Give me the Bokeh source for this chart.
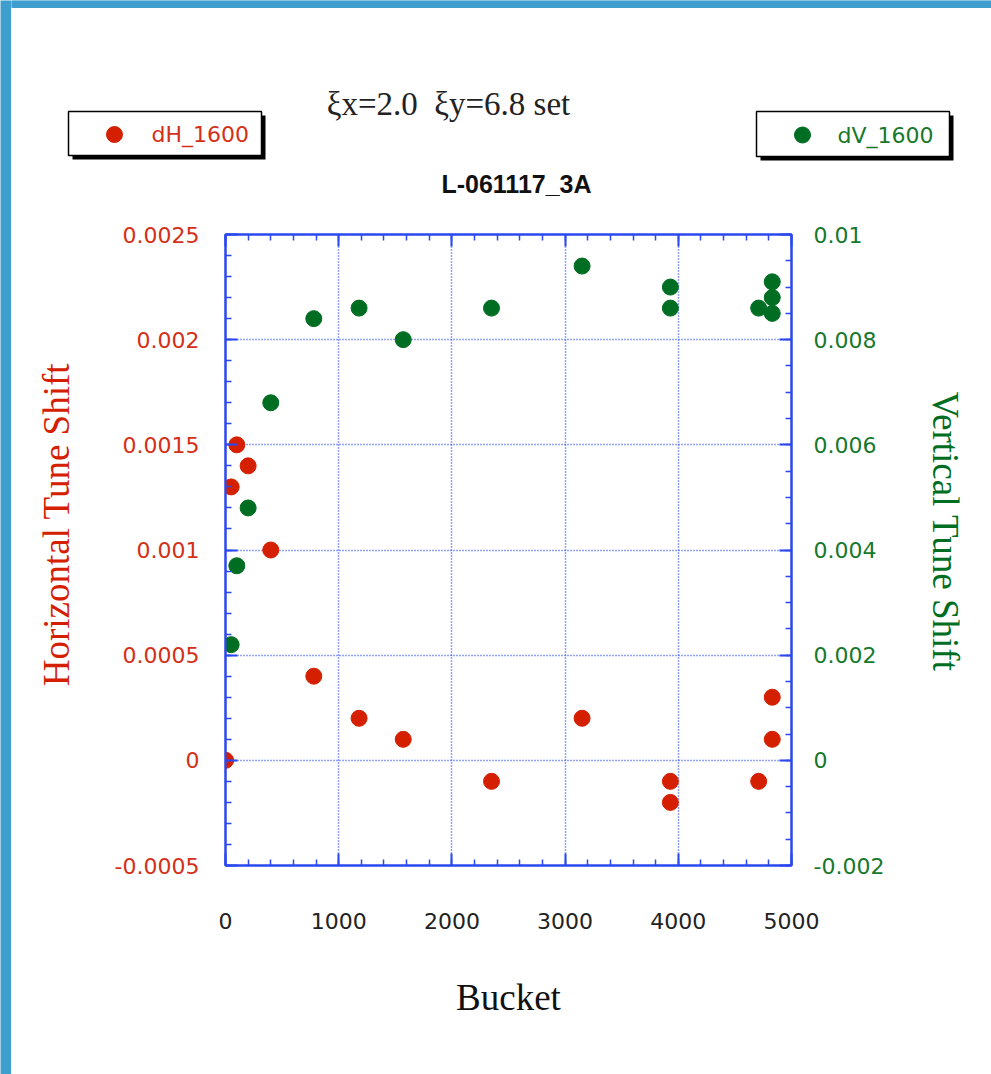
from math import pi
from bokeh.plotting import figure
from bokeh.layouts import row, column
from bokeh.models import (LinearAxis, Range1d, Label, SingleIntervalTicker,
                          CustomJSTickFormatter)
from bokeh.embed import file_html
from bokeh.resources import INLINE

# ---------------- data ----------------
bucket_h = [1, 50, 100, 200, 400, 780, 1180, 1570, 2350, 3150, 3930, 3930, 4710, 4830, 4830]
dH_1600 = [0.0, 0.0013, 0.0015, 0.0014, 0.0010, 0.0004, 0.0002, 0.0001, -0.0001,
           0.0002, -0.0001, -0.0002, -0.0001, 0.0003, 0.0001]

bucket_v = [50, 100, 200, 400, 780, 1180, 1570, 2350, 3150, 3930, 3930, 4710, 4830, 4830, 4830]
dV_1600 = [0.0022, 0.0037, 0.0048, 0.0068, 0.0084, 0.0086, 0.0080, 0.0086, 0.0094,
           0.0090, 0.0086, 0.0086, 0.0091, 0.0088, 0.0085]

x_lim = (0, 5000)
yh_lim = (-0.0005, 0.0025)
yv_lim = (-0.002, 0.01)

title_top = "\u03bex=2.0\u00a0 \u03bey=6.8 set"
title_run = "L-061117_3A"
x_title = "Bucket"
yh_title = "Horizontal Tune Shift"
yv_title = "Vertical Tune Shift"
name_h = "dH_1600"
name_v = "dV_1600"

# ---------------- style ----------------
BLUE = "#2b48ee"
RED = "#d42000"
GREEN = "#006e22"
RED_TXT = "#d43018"
GREEN_TXT = "#17782c"
BG_BLUE = "#3e9fcf"
SANS = "DejaVu Sans"
SERIF = "Liberation Serif"

PAGE_W, PAGE_H = 991, 1074
STRIP_W = 11            # blue strip on the left
TOP_H = 224             # header (titles + legends)
FL, FR, FT, FB = 225, 791, 234, 865   # plot frame edges, page pixels
MAIN_X0, MAIN_X1 = 105, 900           # main figure horizontal extent, page pixels


def blank_fig(w, h, xr, yr):
    f = figure(width=w, height=h, output_backend="svg", toolbar_location=None,
               x_range=Range1d(*xr), y_range=Range1d(*yr),
               x_axis_location=None, y_axis_location=None, min_border=0)
    f.min_border_left = f.min_border_right = 0
    f.min_border_top = f.min_border_bottom = 0
    f.outline_line_color = None
    f.grid.visible = False
    f.background_fill_color = "white"
    f.border_fill_color = "white"
    return f


# ---------------- left blue strip ----------------
strip = blank_fig(STRIP_W, PAGE_H, (0, 1), (0, 1))
strip.background_fill_color = BG_BLUE
strip.border_fill_color = BG_BLUE

# ---------------- header (page coordinates) ----------------
top = blank_fig(PAGE_W - STRIP_W, TOP_H, (STRIP_W, PAGE_W), (TOP_H, 0))
top.quad(left=[STRIP_W], right=[PAGE_W], top=[0], bottom=[7], color=BG_BLUE)

top.add_layout(Label(x=448, y=103, text=title_top, text_font=SERIF,
                     text_font_size="33px", text_color="#222222",
                     text_align="center", text_baseline="alphabetic"))
top.add_layout(Label(x=516, y=183.5, text=title_run, text_font="Liberation Sans",
                     text_font_style="bold", text_font_size="25px", text_color="#111111",
                     text_align="center", text_baseline="alphabetic"))


def legend_box(x0, x1, y0, y1, dot_x, txt_x, txt, col, tcol):
    top.quad(left=[x0 + 4], right=[x1 + 4], top=[y0 + 4], bottom=[y1 + 4],
             fill_color="black", line_color=None)
    top.quad(left=[x0], right=[x1], top=[y0], bottom=[y1],
             fill_color="white", line_color="black", line_width=1.5)
    cy = (y0 + y1) / 2 + 1
    top.scatter([dot_x], [cy], size=16, color=col)
    top.add_layout(Label(x=txt_x, y=cy, text=txt, text_font=SANS, text_font_size="22px",
                         text_color=tcol, text_baseline="middle", text_align="left"))


legend_box(68, 261, 111, 155, 114, 151, name_h, RED, RED_TXT)
legend_box(756, 949, 111, 156, 802, 837, name_v, GREEN, GREEN_TXT)

# ---------------- side label panels (frames aligned with the plot frame) ----------------
MAIN_H = PAGE_H - TOP_H
labL = blank_fig(MAIN_X0 - STRIP_W, MAIN_H, (STRIP_W, MAIN_X0), (FB, FT))
labL.add_layout(Label(x=56, y=524, text=yh_title, text_font=SERIF, text_font_size="37px",
                      text_color=RED, angle=pi / 2, text_align="center",
                      text_baseline="alphabetic"))
labR = blank_fig(PAGE_W - MAIN_X1, MAIN_H, (MAIN_X1, PAGE_W), (FB, FT))
labR.add_layout(Label(x=945, y=531, text=yv_title, text_font=SERIF, text_font_size="37px",
                      text_color=GREEN, angle=-pi / 2, text_align="center",
                      text_baseline="alphabetic"))

# ---------------- main plot ----------------
MAIN_W = MAIN_X1 - MAIN_X0
p = figure(width=MAIN_W, height=MAIN_H, output_backend="svg", toolbar_location=None,
           x_range=Range1d(*x_lim), y_range=Range1d(*yh_lim),
           min_border_left=FL - MAIN_X0, min_border_right=MAIN_X1 - FR,
           min_border_top=FT - TOP_H, min_border_bottom=PAGE_H - FB)
p.extra_y_ranges = {"v": Range1d(*yv_lim)}
p.background_fill_color = "white"
p.border_fill_color = "white"
p.outline_line_color = BLUE
p.outline_line_width = 2

xticker = SingleIntervalTicker(interval=1000, num_minor_ticks=5)
hticker = SingleIntervalTicker(interval=0.0005, num_minor_ticks=5)
vticker = SingleIntervalTicker(interval=0.002, num_minor_ticks=4)

fmt_h = CustomJSTickFormatter(code="""
let s = tick.toFixed(4).replace(/0+$/, '').replace(/\\.$/, '');
if (s === '-0') s = '0';
return s;""")
fmt_v = CustomJSTickFormatter(code="""
let s = tick.toFixed(3).replace(/0+$/, '').replace(/\\.$/, '');
if (s === '-0') s = '0';
return s;""")


def style_axis(ax):
    ax.axis_line_color = BLUE
    ax.axis_line_width = 2
    ax.major_tick_line_color = BLUE
    ax.major_tick_line_width = 2
    ax.minor_tick_line_color = BLUE
    ax.minor_tick_line_width = 1.5
    ax.major_tick_in = 12
    ax.major_tick_out = 0
    ax.minor_tick_in = 6
    ax.minor_tick_out = 0
    ax.major_label_text_font = SANS
    ax.major_label_text_font_size = "22px"
    ax.axis_label_text_font = SERIF
    ax.axis_label_text_font_style = "normal"
    ax.axis_label_text_font_size = "37px"


xa = p.xaxis[0]
xa.ticker = xticker
style_axis(xa)
xa.major_label_text_color = "#222222"
xa.major_label_standoff = 47
xa.axis_label = x_title
xa.axis_label_text_color = "#111111"
xa.axis_label_standoff = 45

ya = p.yaxis[0]
ya.ticker = hticker
ya.formatter = fmt_h
style_axis(ya)
ya.major_label_text_color = RED_TXT
ya.major_label_standoff = 26

ra = LinearAxis(y_range_name="v", ticker=vticker, formatter=fmt_v)
style_axis(ra)
ra.major_label_text_color = GREEN_TXT
ra.major_label_standoff = 22
p.add_layout(ra, "right")

ta = LinearAxis(ticker=xticker)
style_axis(ta)
ta.major_label_text_font_size = "1px"
ta.major_label_text_alpha = 0
ta.major_label_standoff = 0
p.add_layout(ta, "above")

for g, t in ((p.xgrid[0], xticker), (p.ygrid[0], hticker)):
    g.ticker = t
    g.grid_line_color = BLUE
    g.grid_line_width = 1.5
    g.grid_line_dash = "1 2"

p.scatter(bucket_h, dH_1600, size=16, color=RED)
p.scatter(bucket_v, dV_1600, size=16, color=GREEN, y_range_name="v")

layout = row(strip, column(top, row(labL, p, labR)))

open("out.html", "w").write(file_html(layout, INLINE))
